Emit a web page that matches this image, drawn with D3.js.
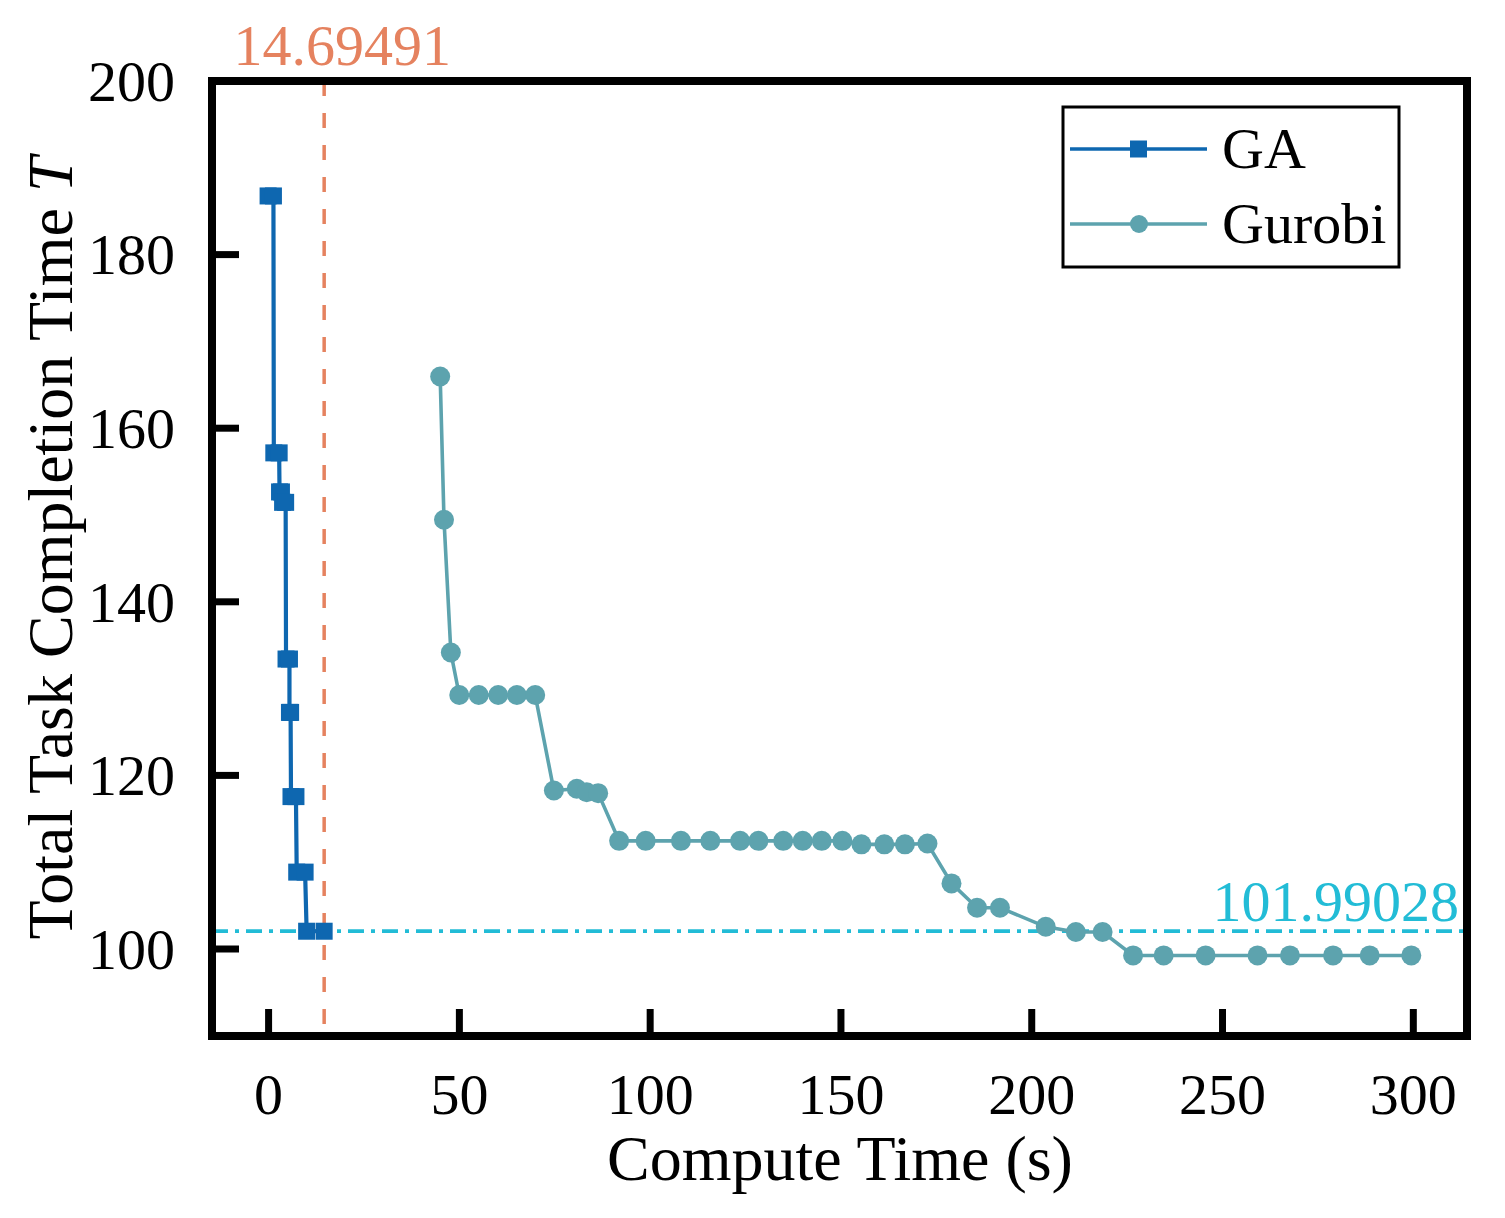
<!DOCTYPE html>
<html>
<head>
<meta charset="utf-8">
<script src="https://cdn.jsdelivr.net/npm/d3@7"></script>
<style>
  html, body { margin: 0; padding: 0; background: #fff; }
  svg { display: block; }
  text { font-family: "Liberation Serif", "Times New Roman", serif; }
</style>
</head>
<body>
<svg id="chart" width="1505" height="1218"></svg>
<script>
// ---- data ----
const gaTime  = [0, 1.4, 1.5, 2.9, 3.0, 3.5, 3.8, 4.6, 4.7, 5.6, 5.6, 5.9, 6.0, 7.3, 7.5, 9.7, 10.1, 14.69];
const gaValue = [186.7, 186.7, 157.1, 157.1, 152.6, 152.6, 151.4, 151.4, 133.35, 133.35, 127.2, 127.2, 117.5, 117.5, 108.8, 108.8, 101.99, 101.99];

const gurobiTime  = [45.1, 46.1, 47.9, 50.1, 55.2, 60.3, 65.2, 70.0, 74.9, 80.9, 83.5, 86.5,
                     92.0, 98.95, 108.2, 115.9, 123.7, 128.5, 135.0, 140.1, 145.1, 150.5,
                     155.5, 161.5, 166.9, 172.8, 179.1, 185.8, 191.8, 203.8, 211.7, 218.7,
                     226.7, 234.7, 245.7, 259.3, 267.8, 279.1, 288.7, 299.6];
const gurobiValue = [165.9, 149.4, 134.1, 129.2, 129.2, 129.2, 129.2, 129.2, 118.2, 118.4, 118.0, 117.9,
                     112.4, 112.4, 112.4, 112.4, 112.4, 112.4, 112.4, 112.4, 112.4, 112.4,
                     112.0, 112.0, 112.0, 112.1, 107.5, 104.7, 104.7, 102.5, 101.9, 101.9,
                     99.2, 99.2, 99.2, 99.2, 99.2, 99.2, 99.2, 99.2];

const xTicks = [0, 50, 100, 150, 200, 250, 300];
const yTicks = [100, 120, 140, 160, 180, 200];
const seriesNames = ["GA", "Gurobi"];
const vRefValue = 14.69491, vRefLabel = "14.69491";
const hRefValue = 101.99028, hRefLabel = "101.99028";
const xTitle = "Compute Time (s)";
const yTitle = "Total Task Completion Time ";
const yTitleItalic = "T";

// ---- layout ----
const svg = d3.select("#chart");
const L = 212, R = 1467, T = 81, B = 1036;
const x = d3.scaleLinear().domain([-14.7, 314.2]).range([L, R]);
const y = d3.scaleLinear().domain([90, 200]).range([1035.3, 80.5]);

const gaColor = "#0E67B0";
const guColor = "#5DA3AE";
const refRed = "#E5825F";
const refCyan = "#22BCD6";

// reference lines
svg.append("line")
  .attr("x1", x(vRefValue)).attr("x2", x(vRefValue))
  .attr("y1", T).attr("y2", B)
  .attr("stroke", refRed).attr("stroke-width", 3.5)
  .attr("stroke-dasharray", "15,17");
svg.append("line")
  .attr("x1", L).attr("x2", R)
  .attr("y1", y(hRefValue)).attr("y2", y(hRefValue))
  .attr("stroke", refCyan).attr("stroke-width", 3.8)
  .attr("stroke-dasharray", "16,7,4,7");

svg.append("text")
  .attr("x", x(vRefValue) + 18).attr("y", 65)
  .attr("text-anchor", "middle")
  .attr("font-size", 58).attr("fill", refRed)
  .text(vRefLabel);
svg.append("text")
  .attr("x", 1459).attr("y", 921)
  .attr("text-anchor", "end")
  .attr("font-size", 58).attr("fill", refCyan)
  .text(hRefLabel);

// series
const gaData = gaTime.map((t, i) => ({ t, v: gaValue[i] }));
const guData = gurobiTime.map((t, i) => ({ t, v: gurobiValue[i] }));
const line = d3.line().x(d => x(d.t)).y(d => y(d.v));

svg.append("path").datum(guData).attr("d", line)
  .attr("fill", "none").attr("stroke", guColor).attr("stroke-width", 3.6);
svg.append("g").selectAll("circle").data(guData).join("circle")
  .attr("cx", d => x(d.t)).attr("cy", d => y(d.v)).attr("r", 10)
  .attr("fill", guColor);

svg.append("path").datum(gaData).attr("d", line)
  .attr("fill", "none").attr("stroke", gaColor).attr("stroke-width", 4.2);
svg.append("g").selectAll("rect").data(gaData).join("rect")
  .attr("x", d => x(d.t) - 8.5).attr("y", d => y(d.v) - 8.5)
  .attr("width", 17).attr("height", 17)
  .attr("fill", gaColor);

// axes
const xAxis = d3.axisBottom(x).tickValues(xTicks).tickSizeInner(-27).tickSizeOuter(0).tickPadding(37);
const yAxis = d3.axisLeft(y).tickValues(yTicks).tickSizeInner(-27).tickSizeOuter(0).tickPadding(37);

const gx = svg.append("g").attr("transform", `translate(0,${B})`).call(xAxis);
const gy = svg.append("g").attr("transform", `translate(${L},0)`).call(yAxis);
[gx, gy].forEach(g => {
  g.select(".domain").remove();
  g.selectAll(".tick line").attr("stroke", "#000").attr("stroke-width", 7);
  g.selectAll(".tick text").attr("font-size", 58).attr("fill", "#000")
    .attr("font-family", '"Liberation Serif", "Times New Roman", serif');
});
gy.selectAll(".tick text").attr("dy", "0.34em");

// frame
svg.append("rect")
  .attr("x", L).attr("y", T).attr("width", R - L).attr("height", B - T)
  .attr("fill", "none").attr("stroke", "#000").attr("stroke-width", 8);

// axis titles
svg.append("text")
  .attr("x", 840).attr("y", 1180)
  .attr("text-anchor", "middle").attr("font-size", 64).attr("fill", "#000")
  .text(xTitle);
const yt = svg.append("text")
  .attr("transform", "translate(72,548) rotate(-90)")
  .attr("text-anchor", "middle").attr("font-size", 64).attr("fill", "#000");
yt.append("tspan").text(yTitle);
yt.append("tspan").attr("font-style", "italic").text(yTitleItalic);

// legend
const lg = svg.append("g");
lg.append("rect").attr("x", 1063).attr("y", 107).attr("width", 336).attr("height", 160)
  .attr("fill", "#fff").attr("stroke", "#000").attr("stroke-width", 3);
const legendRows = [
  { name: seriesNames[0], color: gaColor, shape: "rect", cy: 149, ty: 168 },
  { name: seriesNames[1], color: guColor, shape: "circle", cy: 224, ty: 243 }
];
legendRows.forEach(r => {
  lg.append("line").attr("x1", 1070).attr("x2", 1207).attr("y1", r.cy).attr("y2", r.cy)
    .attr("stroke", r.color).attr("stroke-width", 3.6);
  if (r.shape === "rect") {
    lg.append("rect").attr("x", 1130).attr("y", r.cy - 8.5).attr("width", 17).attr("height", 17).attr("fill", r.color);
  } else {
    lg.append("circle").attr("cx", 1139).attr("cy", r.cy).attr("r", 9).attr("fill", r.color);
  }
  lg.append("text").attr("x", 1222).attr("y", r.ty).attr("font-size", 58).attr("fill", "#000").text(r.name);
});
</script>
</body>
</html>
